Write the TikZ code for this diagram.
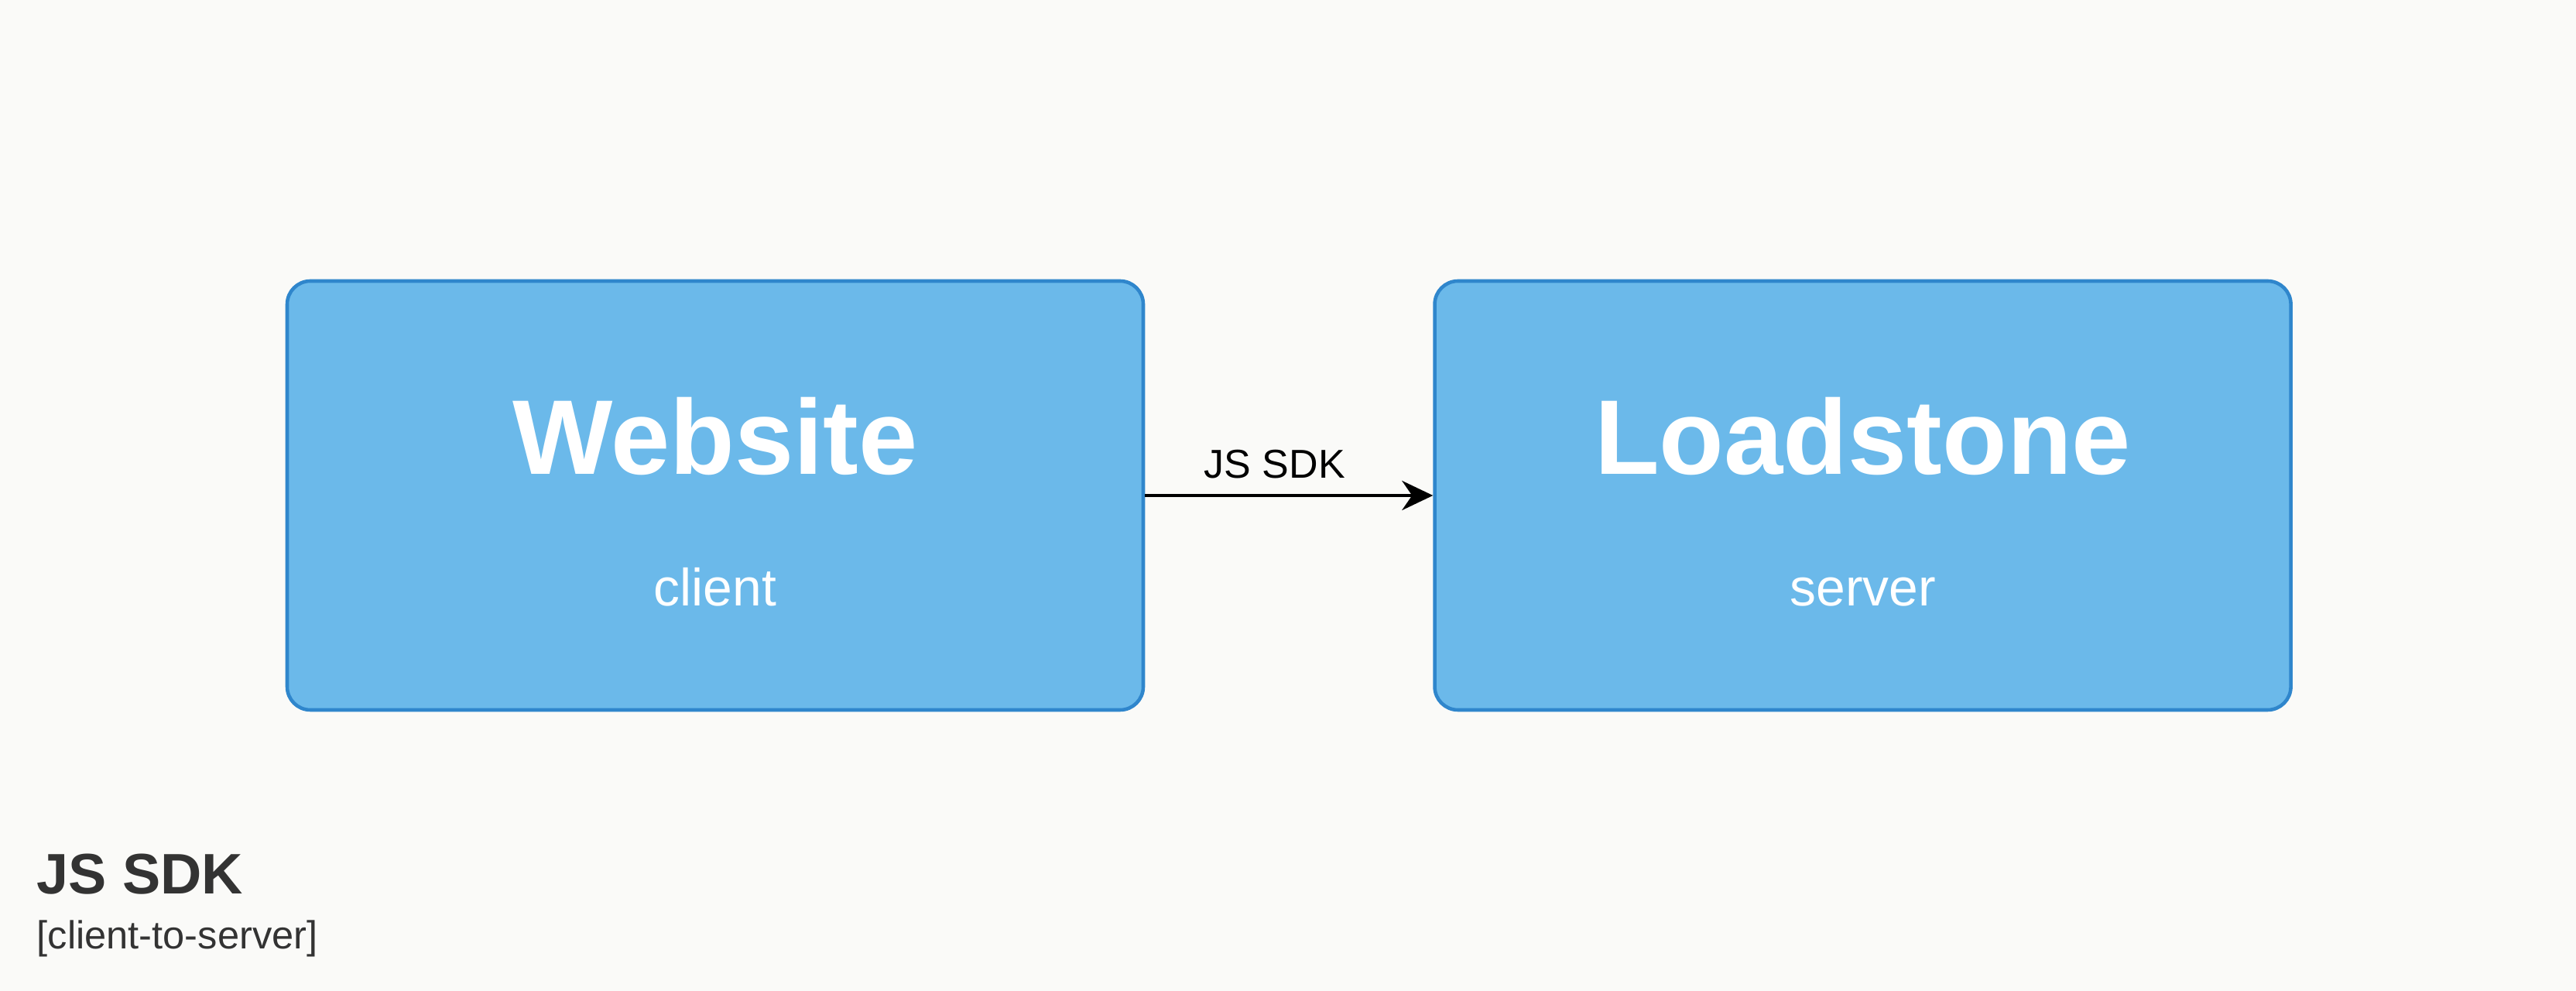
\documentclass[tikz,border=0pt]{standalone}
\usepackage{fontspec}
\setmainfont{Liberation Sans}
\usetikzlibrary{positioning,arrows.meta}

\definecolor{boxfill}{HTML}{6BB9EA}
\definecolor{boxline}{HTML}{2F86CC}
\definecolor{pagebg}{HTML}{FAFAF8}
\definecolor{legendtext}{HTML}{333333}

\begin{document}
\begin{tikzpicture}[
        every node/.style={font=\fontsize{14.8}{17}\selectfont},
        system/.style={draw=boxline, line width=1.3pt, fill=boxfill, rounded corners=0.3cm, minimum width=11.06cm, minimum height=5.54cm},
        systitle/.style={text=white, font=\fontsize{39}{46}\selectfont\bfseries, inner sep=0pt, anchor=base},
        sysdesc/.style={text=white, font=\fontsize{19.3}{23}\selectfont, inner sep=0pt, anchor=base},
        arrow/.style={-{Stealth[length=0.4cm, width=0.38cm]}, line width=1.2pt, draw=black},
        legendtitle/.style={text=legendtext, font=\fontsize{21}{25}\selectfont\bfseries, inner sep=0pt, anchor=west},
        legendsub/.style={text=legendtext, font=\fontsize{14.4}{17}\selectfont, inner sep=0pt}
    ]

    % Page
    \fill[pagebg] (0,0) rectangle (33.28,-12.80);
    \useasboundingbox (0,0) rectangle (33.28,-12.80);

    % Systems
    \node[system] (website) at (9.24,-6.40) {};
    \node[system, right=3.72cm of website] (loadstone) {};

    \node[systitle] (websitetitle) at ([yshift=0.27cm]website.center) {Website};
    \node[sysdesc] (websitedesc) at ([yshift=-1.43cm]website.center) {client};
    \node[systitle] (loadstonetitle) at ([yshift=0.27cm]loadstone.center) {Loadstone};
    \node[sysdesc] (loadstonedesc) at ([yshift=-1.43cm]loadstone.center) {server};

    % Relationship
    \draw[arrow] (website.east) -- node[above=0.2cm, pos=0.45, inner sep=0pt] (sdklabel) {JS SDK} (loadstone.west);

    % Legend
    \node[legendtitle] (legend) at (0.47,-11.29) {JS SDK};
    \node[legendsub, below=0.32cm of legend.south west, anchor=north west] (legendtype) {[client-to-server]};

\end{tikzpicture}
\end{document}
